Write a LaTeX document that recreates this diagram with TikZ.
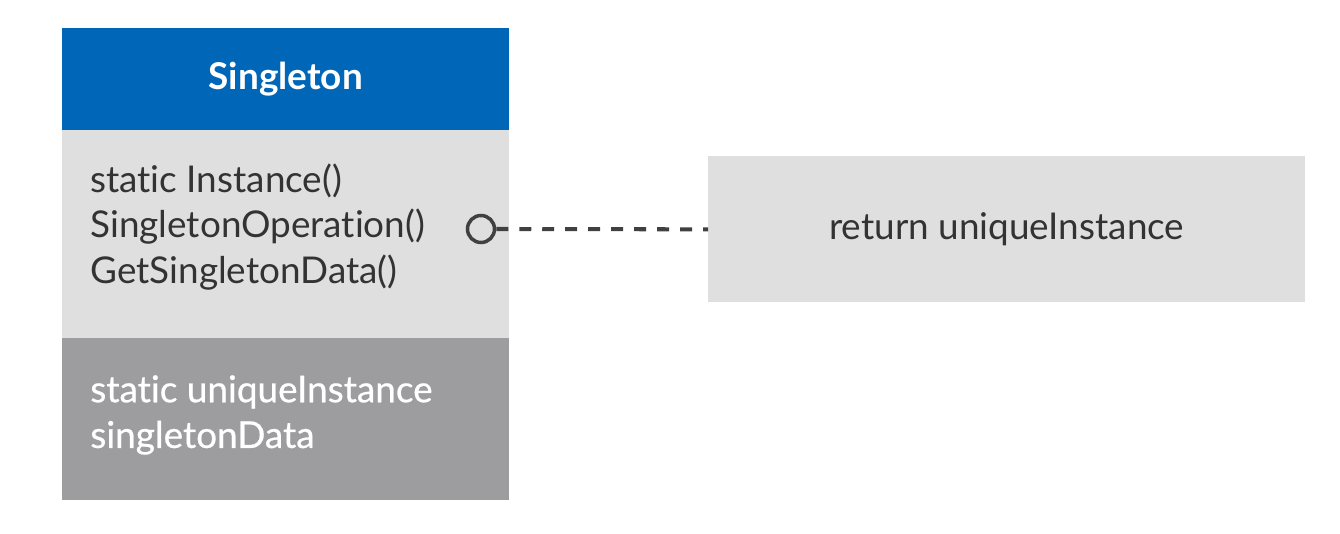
\documentclass[tikz,border=0pt]{standalone}
\usepackage{fontspec}
\setmainfont{Lato}[Ligatures=NoCommon]
\newfontfamily\medfont{Lato}[Ligatures=NoCommon,FakeBold=0.6]
\usetikzlibrary{positioning}
\definecolor{headblue}{HTML}{0066B8}
\definecolor{lightgrey}{HTML}{DFDFDF}
\definecolor{darkgrey}{HTML}{9D9DA0}
\definecolor{textgrey}{HTML}{333333}
\definecolor{lineblack}{HTML}{404040}

\begin{document}
\begin{tikzpicture}[x=0.02cm,y=-0.02cm,
            font=\fontsize{21}{26}\selectfont,
            part/.style={inner sep=0pt,minimum width=8.94cm},
            members/.style={anchor=west,align=left,inner sep=0pt},
        ]
        \useasboundingbox (0,0) rectangle (1340,534);
        % class box
        \node[part,anchor=north west,fill=headblue,minimum height=2.04cm,text=white,font=\fontsize{21}{26}\selectfont\bfseries] (head) at (62,28) {Singleton};
        \node[part,fill=lightgrey,minimum height=4.2cm,below=-0.02cm of head] (ops) {};
        \node[part,fill=darkgrey,minimum height=3.24cm,anchor=north west] (attrs) at (62,338) {};
        \node[members,text=textgrey] (opstext) at (90,227) {static Instance()\\SingletonOperation()\\GetSingletonData()};
        \node[members,text=white,font=\fontsize{21}{26}\selectfont\medfont] (attrstext) at (90,415) {static uniqueInstance\\singletonData};
        % note
        \node[anchor=north west,fill=lightgrey,minimum width=11.94cm,minimum height=2.92cm,text=textgrey] (note) at (708,156) {return uniqueInstance};
        \node[circle,draw=lineblack,line width=2pt,fill=lightgrey,minimum size=0.54cm,inner sep=0pt] (dot) at (481,229) {};
        \draw[lineblack,line width=2.3pt,dash pattern=on 0.24cm off 0.22cm] (dot.east) -- (note.west);
    \end{tikzpicture}
\end{document}
